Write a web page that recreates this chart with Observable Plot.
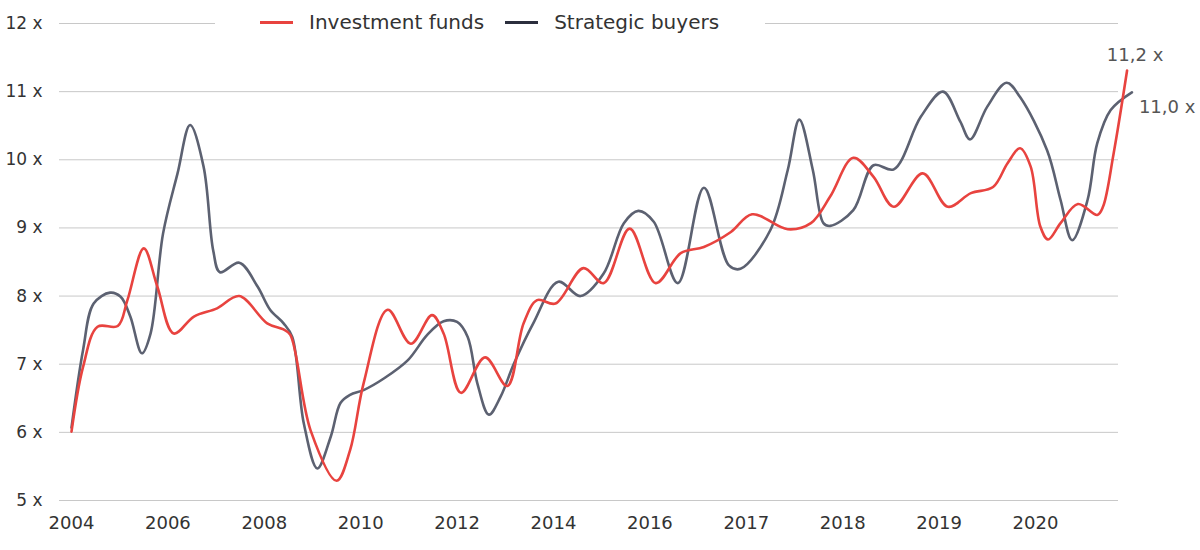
<!DOCTYPE html>
<html>
<head>
<meta charset="utf-8">
<script src="https://cdn.jsdelivr.net/npm/d3@7"></script>
<script src="https://cdn.jsdelivr.net/npm/@observablehq/plot@0.6"></script>
<style>
  body { margin: 0; background: #fff; font-family: "DejaVu Sans", sans-serif; }
  #wrap { position: relative; width: 1200px; height: 550px; }
  #legend { position: absolute; left: 215px; top: 8px; width: 550px; height: 28px; background: #fff;
            display: flex; align-items: center; padding-left: 45px; box-sizing: border-box;
            font-size: 20px; color: #333; white-space: nowrap; }
  .sw { display: inline-block; width: 33px; height: 3px; margin-right: 16px; }
  .gap { display: inline-block; width: 21px; }
</style>
</head>
<body>
<div id="wrap">
  <div id="chart"></div>
  <div id="legend"></div>
</div>
<script>
// Series names and colours
const seriesNames = ["Investment funds", "Strategic buyers"];
const seriesColors = ["#e8433f", "#5c6171"];
const legendColors = ["#e8433f", "#2b2e3d"];

// X tick labels (equally spaced positions 0..10)
const xTickLabels = ["2004","2006","2008","2010","2012","2014","2016","2017","2018","2019","2020"];
const yTicks = [5, 6, 7, 8, 9, 10, 11, 12];

// Investment funds: position (in tick-label steps) and multiple
const ifT = [0.00,0.12,0.27,0.48,0.58,0.75,0.89,1.06,1.27,1.51,1.74,2.03,2.20,2.27,2.48,2.75,2.89,3.03,3.28,3.52,3.74,3.86,4.04,4.29,4.52,4.69,4.83,5.02,5.31,5.52,5.79,6.06,6.32,6.56,6.84,7.06,7.43,7.67,7.87,8.11,8.32,8.53,8.83,9.09,9.33,9.56,9.71,9.84,9.95,10.05,10.13,10.26,10.44,10.64,10.70,10.81,10.95];
const ifV = [6.01,6.96,7.55,7.56,7.94,8.70,8.14,7.45,7.70,7.82,8.00,7.60,7.51,7.43,6.03,5.29,5.74,6.72,7.80,7.30,7.72,7.45,6.58,7.10,6.68,7.60,7.94,7.89,8.41,8.19,8.99,8.19,8.63,8.72,8.94,9.20,8.98,9.07,9.46,10.03,9.75,9.31,9.80,9.31,9.51,9.60,9.95,10.17,9.90,9.02,8.83,9.07,9.35,9.19,9.31,10.09,11.31];

// Strategic buyers
const sbT = [0.00,0.12,0.23,0.40,0.51,0.61,0.73,0.82,0.95,1.10,1.23,1.37,1.47,1.54,1.74,1.93,2.06,2.20,2.29,2.41,2.55,2.69,2.79,2.89,3.03,3.24,3.49,3.69,3.86,4.00,4.11,4.21,4.33,4.45,4.59,4.79,5.05,5.28,5.52,5.73,5.88,6.04,6.29,6.56,6.82,6.94,7.25,7.43,7.55,7.69,7.80,7.87,8.11,8.32,8.53,8.81,9.04,9.22,9.32,9.50,9.70,9.84,10.12,10.26,10.38,10.54,10.64,10.78,11.00];
const sbV = [6.07,7.21,7.89,8.05,7.99,7.70,7.16,7.45,8.92,9.80,10.51,9.90,8.67,8.35,8.49,8.14,7.80,7.60,7.40,6.13,5.47,5.94,6.43,6.55,6.62,6.79,7.06,7.43,7.63,7.62,7.40,6.72,6.26,6.52,7.01,7.60,8.21,8.00,8.33,9.07,9.25,9.09,8.19,9.59,8.45,8.40,8.97,9.85,10.59,9.85,9.07,9.03,9.26,9.92,9.86,10.63,11.00,10.56,10.30,10.78,11.13,10.92,10.14,9.41,8.82,9.41,10.24,10.73,10.99];

// End labels
const endLabels = ["11,2 x", "11,0 x"];

const ifData = ifT.map((t, i) => ({t, v: ifV[i]}));
const sbData = sbT.map((t, i) => ({t, v: sbV[i]}));
const endIF = [{t: ifT[ifT.length - 1], v: ifV[ifV.length - 1], label: endLabels[0]}];
const endSB = [{t: sbT[sbT.length - 1], v: sbV[sbV.length - 1], label: endLabels[1]}];

const chart = Plot.plot({
  width: 1200,
  height: 550,
  marginLeft: 59,
  marginRight: 82,
  marginTop: 23,
  marginBottom: 50,
  style: { fontFamily: "'DejaVu Sans', sans-serif", color: "#333", background: "#fff", overflow: "visible" },
  x: { domain: [-0.1245, 10.861], ticks: d3.range(xTickLabels.length), tickFormat: i => xTickLabels[i], tickSize: 0, tickPadding: 16, label: null },
  y: { domain: [5, 12], ticks: yTicks, tickFormat: d => d + " x", tickSize: 0, tickPadding: 17, label: null },
  marks: [
    Plot.ruleY(yTicks, { stroke: "#c8c8c8", strokeWidth: 1 }),
    Plot.axisX({ ticks: d3.range(xTickLabels.length), tickFormat: i => xTickLabels[i], tickSize: 0, tickPadding: 16, fontSize: 18, fill: "#333", label: null }),
    Plot.axisY({ ticks: yTicks, tickFormat: d => d + " x", tickSize: 0, tickPadding: 17, fontSize: 17, fill: "#333", label: null }),
    Plot.line(sbData, { x: "t", y: "v", stroke: seriesColors[1], strokeWidth: 2.6, curve: "catmull-rom" }),
    Plot.line(ifData, { x: "t", y: "v", stroke: seriesColors[0], strokeWidth: 2.6, curve: "catmull-rom" }),
    Plot.text(endIF, { x: "t", y: "v", text: "label", dx: 8, dy: -15, textAnchor: "middle", fontSize: 18, fill: "#555" }),
    Plot.text(endSB, { x: "t", y: "v", text: "label", dx: 7, dy: 15, textAnchor: "start", fontSize: 18, fill: "#555" })
  ]
});
document.getElementById("chart").appendChild(chart);

// Legend
const legend = document.getElementById("legend");
seriesNames.forEach((name, i) => {
  if (i > 0) { const g = document.createElement("span"); g.className = "gap"; legend.appendChild(g); }
  const sw = document.createElement("span");
  sw.className = "sw";
  sw.style.background = legendColors[i];
  legend.appendChild(sw);
  const tx = document.createElement("span");
  tx.textContent = name;
  legend.appendChild(tx);
});
</script>
</body>
</html>
